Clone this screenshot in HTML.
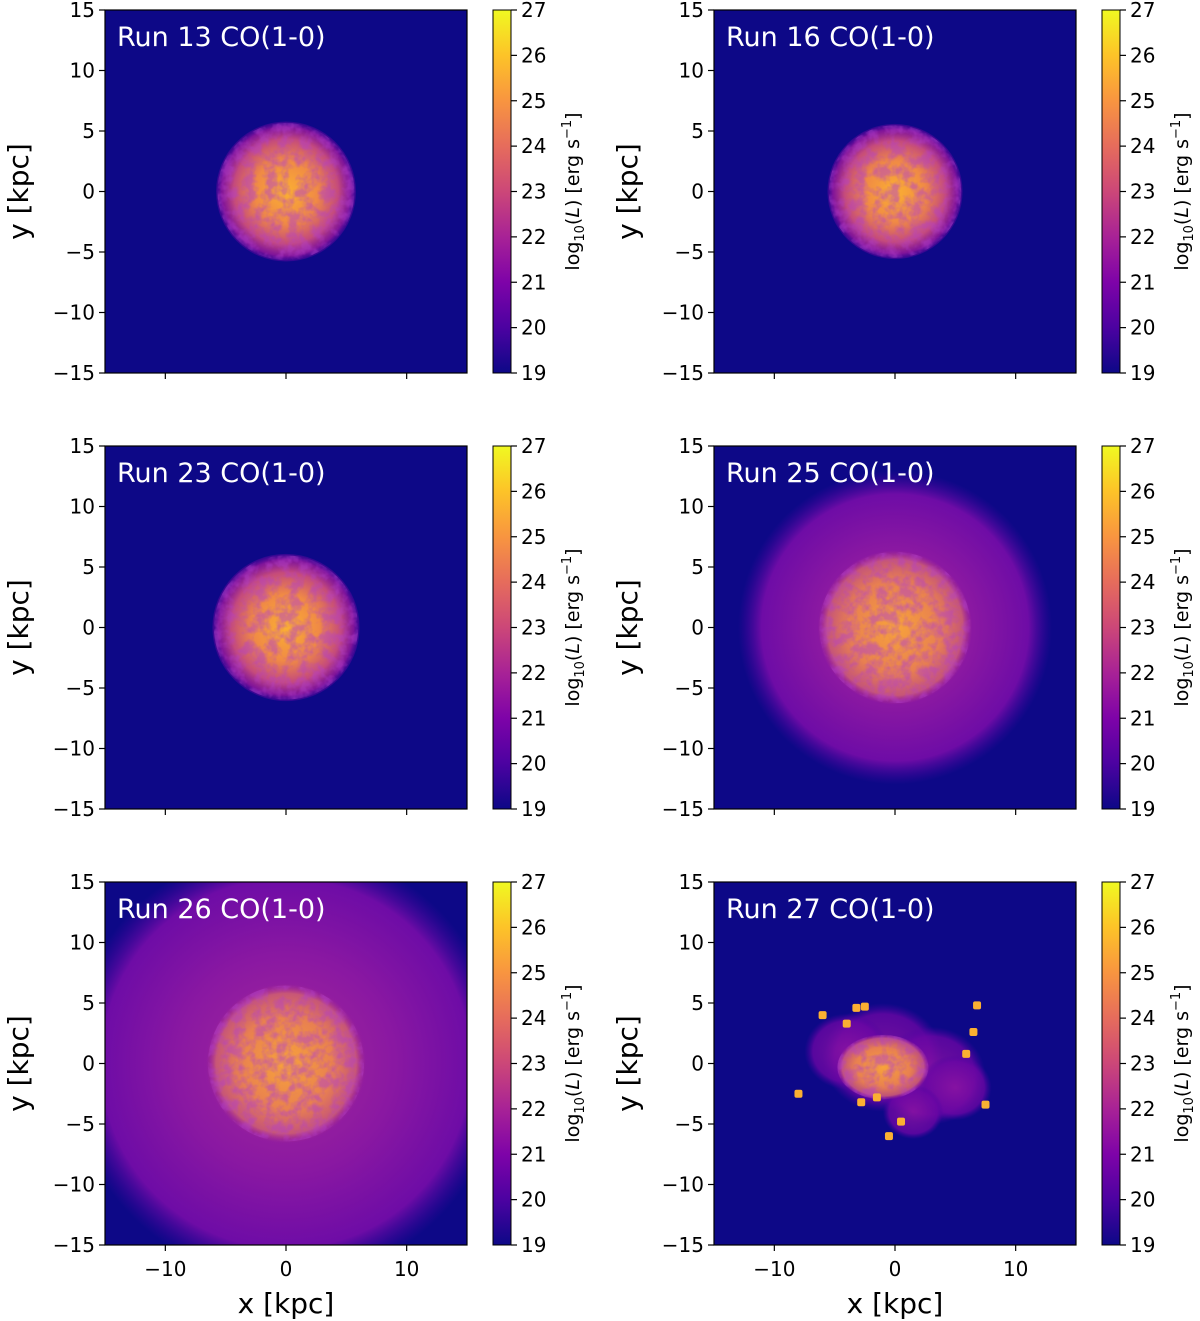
<!DOCTYPE html>
<html><head><meta charset="utf-8">
<style>
html,body{margin:0;padding:0;background:#fff;}
svg{display:block;font-family:"DejaVu Sans","Liberation Sans",sans-serif;}
</style></head>
<body>
<svg id="fig" width="1200" height="1321" viewBox="0 0 1200 1321" xmlns="http://www.w3.org/2000/svg">
<defs>
<linearGradient id="plasma" x1="0" y1="1" x2="0" y2="0">
<stop offset="0" stop-color="#0d0887"/><stop offset="0.125" stop-color="#4c02a1"/>
<stop offset="0.25" stop-color="#7e03a8"/><stop offset="0.375" stop-color="#a82296"/>
<stop offset="0.5" stop-color="#cc4778"/><stop offset="0.625" stop-color="#e66c5c"/>
<stop offset="0.75" stop-color="#f89540"/><stop offset="0.875" stop-color="#fdc328"/>
<stop offset="1" stop-color="#f0f921"/></linearGradient>
<radialGradient id="disc"><stop offset="0" stop-color="#fbb032"/><stop offset="0.45" stop-color="#f08a45"/><stop offset="0.75" stop-color="#c44a7c"/><stop offset="0.92" stop-color="#9c179e" stop-opacity="0.8"/><stop offset="1" stop-color="#7e03a8" stop-opacity="0.3"/></radialGradient>
<radialGradient id="discB"><stop offset="0" stop-color="#f8a33a"/><stop offset="0.6" stop-color="#e88050"/><stop offset="0.88" stop-color="#d06070" stop-opacity="0.85"/><stop offset="1" stop-color="#b03090" stop-opacity="0"/></radialGradient>
<radialGradient id="halo"><stop offset="0" stop-color="#a52a98"/><stop offset="0.5" stop-color="#8a18a2"/><stop offset="0.85" stop-color="#6e0ca6"/><stop offset="1" stop-color="#4c02a1" stop-opacity="0"/></radialGradient>
<radialGradient id="halo27"><stop offset="0" stop-color="#8e14a3"/><stop offset="0.8" stop-color="#6a06a4"/><stop offset="1" stop-color="#4c02a1" stop-opacity="0"/></radialGradient>
<filter id="tex" x="0" y="0" width="100%" height="100%"><feTurbulence type="fractalNoise" baseFrequency="0.09" numOctaves="3" seed="4"/><feColorMatrix type="matrix" values="0 0 0 0 0.45  0 0 0 0 0.05  0 0 0 0 0.6  0 0 0 -3 1.9"/><feComposite in2="SourceGraphic" operator="in"/></filter>
</defs>
<g id="root"></g>
</svg>
<script>
const titles=["Run 13 CO(1-0)","Run 16 CO(1-0)","Run 23 CO(1-0)","Run 25 CO(1-0)","Run 26 CO(1-0)","Run 27 CO(1-0)"];
const discR=[5.8,5.6,6.1,6.4,6.6,3.2];
const haloR=[0,0,0,13,18,7];
const xTicks=[-10,0,10];
const yTicks=[-15,-10,-5,0,5,10,15];
const cbTicks=[19,20,21,22,23,24,25,26,27];
const clumpX=[-6,-4,-3.2,-2.5,-1.5,-8,6.5,6.8,7.5,0.5,-2.8,-0.5,5.9];
const clumpY=[4,3.3,4.6,4.7,-2.8,-2.5,2.6,4.8,-3.4,-4.8,-3.2,-6.0,0.8];
const NS="http://www.w3.org/2000/svg";
const root=document.getElementById('root');
const colX=[105,714], rowY=[10,446,882], W=362, H=363;
function el(t,a,p){const e=document.createElementNS(NS,t);for(const k in a)e.setAttribute(k,a[k]);(p||root).appendChild(e);return e;}
for(let i=0;i<6;i++){
 const c=i%2,r=Math.floor(i/2),x0=colX[c],y0=rowY[r];
 const sx=v=>x0+(v+15)/30*W, sy=v=>y0+(15-v)/30*H, k=W/30;
 const g=el('g',{});
 
 
 const cp=el('clipPath',{id:'cp'+i},g);el('rect',{x:x0,y:y0,width:W,height:H},cp);
 const img=el('g',{'clip-path':'url(#cp'+i+')'},g);
 const bg=el('rect',{x:x0,y:y0,width:W,height:H,fill:'#0d0887'},img);
 
 
 if(haloR[i]>0){
  if(i===5){
   const hx=[-1,3,-4,5,1.5];const hy=[0.5,-1,1,-2,-4];const hr=[5,4.5,3.5,3,2.5];
   for(let j=0;j<hx.length;j++)el('ellipse',{cx:sx(hx[j]),cy:sy(hy[j]),rx:hr[j]*k,ry:hr[j]*k*0.9,fill:'url(#halo27)',opacity:0.8},img);
  } else {
   const h=el('circle',{cx:sx(0),cy:sy(0),r:haloR[i]*k,fill:'url(#halo)'},img);
   
   
  }
 }
 const dx=i===5?-1:0, dy=i===5?-0.3:0;
 const rx=discR[i]*k*(i===5?1.2:1), ry=discR[i]*k*(i===5?0.85:1);
 const d=el('ellipse',{cx:sx(dx),cy:sy(dy),rx:rx,ry:ry,fill:i>=3?'url(#discB)':'url(#disc)'},img);
 
 
 el('ellipse',{cx:sx(dx),cy:sy(dy),rx:rx*0.98,ry:ry*0.98,fill:'#fff',filter:'url(#tex)',opacity:0.5},img);
 if(i===5){for(let j=0;j<clumpX.length;j++){const q=el('rect',{x:sx(clumpX[j])-4,y:sy(clumpY[j])-4,width:8,height:8,rx:2,fill:'#fbb032'},img);}}
 el('rect',{x:x0,y:y0,width:W,height:H,fill:'none',stroke:'#000','stroke-width':1.2},g);
 const tt=el('text',{x:x0+12,y:y0+36,fill:'#fff','font-size':27},g);tt.textContent=titles[i];
 
 
 for(const v of yTicks){el('line',{x1:x0-6,x2:x0,y1:sy(v),y2:sy(v),stroke:'#000','stroke-width':1.2},g);
  const l=el('text',{x:x0-10,y:sy(v)+7,'text-anchor':'end','font-size':20},g);l.textContent=v<0?'\u2212'+(-v):v;
  
  }
 for(const v of xTicks){el('line',{x1:sx(v),x2:sx(v),y1:y0+H,y2:y0+H+6,stroke:'#000','stroke-width':1.2},g);
  if(r===2){const l=el('text',{x:sx(v),y:y0+H+31,'text-anchor':'middle','font-size':20},g);l.textContent=v<0?'\u2212'+(-v):v;
  
  }}
 const yl=el('text',{transform:`translate(${x0-77},${y0+H/2}) rotate(-90)`,'text-anchor':'middle','font-size':28},g);yl.textContent='y [kpc]';
 
 
 if(r===2){const xl=el('text',{x:x0+W/2,y:1313,'text-anchor':'middle','font-size':28},g);xl.textContent='x [kpc]';
  
  }
 const cx=x0+388, cw=18;
 const cb=el('rect',{x:cx,y:y0,width:cw,height:H,fill:'url(#plasma)',stroke:'#000','stroke-width':1},g);
 
 
 for(const v of cbTicks){const yy=y0+H-(v-19)/8*H;el('line',{x1:cx+cw,x2:cx+cw+6,y1:yy,y2:yy,stroke:'#000','stroke-width':1.2},g);
  const l=el('text',{x:cx+cw+10,y:yy+7,'font-size':20},g);l.textContent=v;
  
  }
 const cl=el('text',{transform:`translate(${cx+86},${y0+H/2}) rotate(-90)`,'text-anchor':'middle','font-size':19},g);
 cl.innerHTML='log<tspan font-size="13" dy="5">10</tspan><tspan dy="-5">(</tspan><tspan font-style="italic">L</tspan>) [erg s<tspan font-size="13" dy="-8">\u22121</tspan><tspan dy="8">]</tspan>';
 
 
}
</script>
</body></html>
